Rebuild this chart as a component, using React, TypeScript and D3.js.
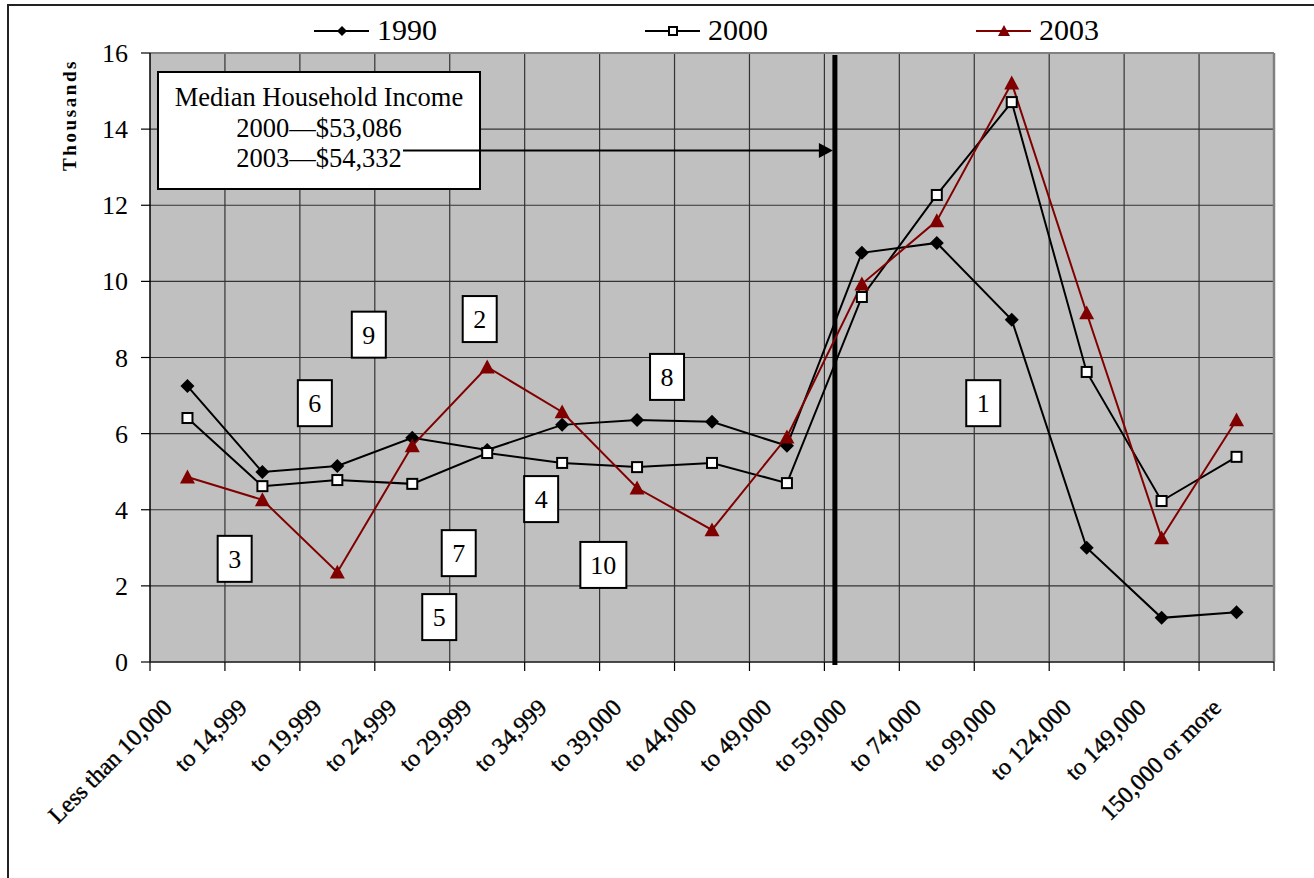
import React from 'react';
import * as d3 from 'd3';

const categories = [
  'Less than 10,000', 'to 14,999', 'to 19,999', 'to 24,999', 'to 29,999',
  'to 34,999', 'to 39,000', 'to 44,000', 'to 49,000', 'to 59,000',
  'to 74,000', 'to 99,000', 'to 124,000', 'to 149,000', '150,000 or more',
];
const values1990 = [7.25, 4.99, 5.15, 5.89, 5.57, 6.23, 6.36, 6.31, 5.68, 10.75, 11.01, 8.99, 3.0, 1.16, 1.31];
const values2000 = [6.41, 4.62, 4.78, 4.68, 5.49, 5.23, 5.12, 5.23, 4.70, 9.59, 12.27, 14.71, 7.62, 4.23, 5.39];
const values2003 = [4.86, 4.26, 2.36, 5.68, 7.75, 6.57, 4.57, 3.47, 5.91, 9.93, 11.59, 15.21, 9.17, 3.26, 6.36];
const seriesNames = ['1990', '2000', '2003'];
const yTicks = [0, 2, 4, 6, 8, 10, 12, 14, 16];
const yTitle = 'Thousands';
const medianLines = ['Median Household Income', '2000\u2014$53,086', '2003\u2014$54,332'];
const medianLinePos = 9.14; // in category units from the left edge
const medianArrowValue = 13.44;
const rankLabels = [
  { text: '1', x: 11.12, y: 6.8 },
  { text: '2', x: 4.4, y: 9.01 },
  { text: '3', x: 1.13, y: 2.71 },
  { text: '4', x: 5.22, y: 4.28 },
  { text: '5', x: 3.86, y: 1.18 },
  { text: '6', x: 2.2, y: 6.8 },
  { text: '7', x: 4.12, y: 2.86 },
  { text: '8', x: 6.9, y: 7.49 },
  { text: '9', x: 2.92, y: 8.6 },
  { text: '10', x: 6.05, y: 2.55 },
];

const FONT = '"Liberation Serif", "Times New Roman", serif';
const RED = '#800000';
const L = 150, R = 1274, T = 53, B = 662;

export default function App() {
  const x = d3.scaleBand<string>().domain(categories).range([L, R]).padding(0);
  const xLin = d3.scaleLinear().domain([0, categories.length]).range([L, R]);
  const y = d3.scaleLinear().domain([0, 16]).range([B, T]);
  const cx = (i: number) => (x(categories[i]) as number) + x.bandwidth() / 2;

  const line = d3.line<number>().x((_, i) => cx(i)).y((d) => y(d));

  const diamond = (s: number) => `M0,${-s}L${s},0L0,${s}L${-s},0Z`;
  const tri = (s: number) => `M0,${-s}L${s},${s * 0.85}L${-s},${s * 0.85}Z`;

  const series = [
    { name: seriesNames[0], values: values1990, color: '#000', kind: 'diamond' },
    { name: seriesNames[1], values: values2000, color: '#000', kind: 'square' },
    { name: seriesNames[2], values: values2003, color: RED, kind: 'triangle' },
  ];

  const marker = (kind: string, color: string, px: number, py: number, key: any, small = false) => {
    if (kind === 'diamond') {
      return <path key={key} d={diamond(small ? 5 : 7)} transform={`translate(${px},${py})`} fill="#000" />;
    }
    if (kind === 'square') {
      const s = small ? 8 : 10;
      return <rect key={key} x={px - s / 2} y={py - s / 2} width={s} height={s} fill="#fff" stroke="#000" strokeWidth={2} />;
    }
    return <path key={key} d={tri(small ? 6 : 7.5)} transform={`translate(${px},${py})`} fill={color} />;
  };

  const medX = xLin(medianLinePos);
  const arrowY = y(medianArrowValue);

  return (
    <svg
      width={1314}
      height={878}
      style={{ position: 'absolute', left: 0, top: 0, fontFamily: FONT }}
    >
      <rect x={0} y={0} width={1314} height={878} fill="#fff" />
      {/* outer frame */}
      <rect x={8} y={5} width={1400} height={1000} fill="#fff" stroke="#222" strokeWidth={2} />

      {/* legend */}
      {series.map((s, i) => {
        const lx = 314 + i * 331;
        return (
          <g key={s.name}>
            <line x1={lx} x2={lx + 55} y1={31} y2={31} stroke={s.color} strokeWidth={2} />
            {marker(s.kind, s.color, lx + 28, 31, 'm', true)}
            <text x={lx + 63} y={40} fontSize={30} fill="#000">{s.name}</text>
          </g>
        );
      })}

      {/* plot area */}
      <rect x={L} y={T} width={R - L} height={B - T} fill="#C0C0C0" />
      {yTicks.map((t) => (
        <line key={'h' + t} x1={L} x2={R} y1={y(t)} y2={y(t)} stroke="#333" strokeWidth={1.2} />
      ))}
      {categories.map((c, i) =>
        i > 0 ? (
          <line key={'v' + i} x1={x(c)} x2={x(c)} y1={T} y2={B} stroke="#333" strokeWidth={1.2} />
        ) : null
      )}
      {/* plot border */}
      <line x1={L} x2={R} y1={T} y2={T} stroke="#808080" strokeWidth={2} />
      <line x1={R} x2={R} y1={T} y2={B} stroke="#808080" strokeWidth={2.5} />
      <line x1={L} x2={L} y1={T} y2={B} stroke="#000" strokeWidth={1.5} />
      <line x1={L} x2={R} y1={B} y2={B} stroke="#333" strokeWidth={1.5} />

      {/* y ticks */}
      {yTicks.map((t) => (
        <g key={'yt' + t}>
          <line x1={L - 9} x2={L} y1={y(t)} y2={y(t)} stroke="#000" strokeWidth={1.2} />
          <text x={128} y={y(t) + 9} fontSize={26} textAnchor="end" fill="#000">{t}</text>
        </g>
      ))}
      <text
        transform={`translate(76, 115) rotate(-90)`}
        fontSize={19}
        fontWeight="bold"
        letterSpacing={2.6}
        textAnchor="middle"
        fill="#000"
      >
        {yTitle}
      </text>

      {/* x ticks */}
      {d3.range(categories.length + 1).map((i) => (
        <line key={'xt' + i} x1={xLin(i)} x2={xLin(i)} y1={B} y2={B + 9} stroke="#000" strokeWidth={1.2} />
      ))}
      {categories.map((c, i) => (
        <text
          key={'xl' + i}
          transform={`translate(${cx(i) - 14}, 709) rotate(-45)`}
          fontSize={24}
          textAnchor="end"
          fill="#000"
          stroke="#000"
          strokeWidth={0.4}
        >
          {c}
        </text>
      ))}

      {/* median line */}
      <line x1={medX} x2={medX} y1={T + 2} y2={B + 3} stroke="#000" strokeWidth={5} />

      {/* series */}
      {series.map((s) => (
        <path key={'l' + s.name} d={line(s.values) as string} fill="none" stroke={s.color} strokeWidth={2} />
      ))}
      {series.map((s) => (
        <g key={'mk' + s.name}>{s.values.map((v, i) => marker(s.kind, s.color, cx(i), y(v), i))}</g>
      ))}

      {/* rank labels */}
      {rankLabels.map((r) => {
        const w = r.text.length > 1 ? 46 : 34;
        const px = xLin(r.x);
        const py = y(r.y);
        return (
          <g key={'r' + r.text}>
            <rect x={px - w / 2} y={py - 23} width={w} height={46} fill="#fff" stroke="#000" strokeWidth={2} />
            <text x={px} y={py + 9} fontSize={26} textAnchor="middle" fill="#000">{r.text}</text>
          </g>
        );
      })}

      {/* median annotation box */}
      <rect x={158} y={72} width={322} height={117} fill="#fff" stroke="#000" strokeWidth={2} />
      {medianLines.map((t, i) => (
        <text key={'ml' + i} x={319} y={106 + i * 30.5} fontSize={26.5} textAnchor="middle" fill="#000">{t}</text>
      ))}
      <line x1={403} x2={medX - 14} y1={arrowY} y2={arrowY} stroke="#000" strokeWidth={2} />
      <path
        d={`M${medX - 2},${arrowY}L${medX - 16},${arrowY - 7.5}L${medX - 16},${arrowY + 7.5}Z`}
        fill="#000"
      />
    </svg>
  );
}
